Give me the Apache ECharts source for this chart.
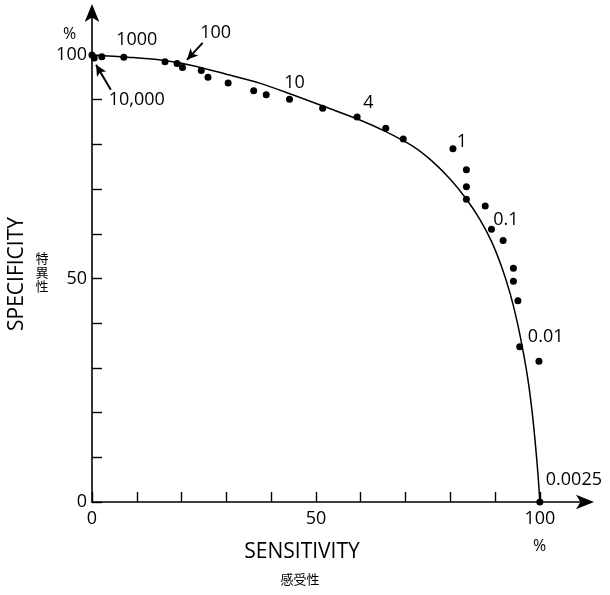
<!DOCTYPE html>
<html>
<head>
<meta charset="utf-8">
<script src="https://cdn.jsdelivr.net/npm/echarts@6/dist/echarts.min.js"></script>
<style>
  html, body { margin: 0; padding: 0; background: #fff; }
  #chart { width: 610px; height: 595px; }
</style>
</head>
<body>
<div id="chart"></div>
<script>
// observed points (sensitivity %, specificity %)
var sensitivity = [0, 0.5, 2.2, 7.1, 16.3, 19.0, 20.2, 24.4, 25.9, 30.4, 36.1, 38.9, 44.1, 51.5, 59.2,
  65.6, 69.5, 80.6, 83.6, 83.6, 83.6, 87.8, 89.2, 91.8, 94.1, 94.1, 95.1, 95.5, 99.8, 100];
var specificity = [100, 99.3, 99.6, 99.5, 98.5, 98.1, 97.2, 96.5, 95.0, 93.7, 92.0, 91.1, 90.1, 88.1, 86.1,
  83.6, 81.2, 79.0, 74.3, 70.5, 67.7, 66.2, 61.0, 58.5, 52.3, 49.4, 45.0, 34.7, 31.5, 0];

// fitted curve, read along its length
var curveSens = [0, 8, 15, 22.6, 30, 37.4, 44.8, 52.3, 59.7, 65.5, 71.6, 76, 80, 83.5, 86.5, 89.2, 91.5,
  93.4, 95, 96.3, 97.4, 98.3, 99, 99.6, 100];
var curveSpec = [100, 99.5, 98.9, 97.6, 95.7, 93.7, 91.1, 88.3, 85.5, 82.9, 79.6, 76.2, 72.2, 67.9, 63.4, 58.3, 52.5,
  46.5, 40, 33.5, 27, 20, 13, 6, 0];

// threshold labels along the curve
var thresholds = ['10,000', '1000', '100', '10', '4', '1', '0.1', '0.01', '0.0025'];

var axisTicks = [0, 10, 20, 30, 40, 50, 60, 70, 80, 90, 100];
var axisLabels = [0, 50, 100];

// where each threshold label sits (data coords)
var labelPos = [[10.0, 89.9], [10.0, 103.4], [27.6, 104.9], [45.2, 93.7], [61.7, 89.3],
  [82.6, 80.5], [92.4, 63.1], [101.3, 36.9], [107.6, 4.9]];

var FONT = 'Open Sans';
var INK = '#000';

var chart = echarts.init(document.getElementById('chart'));

var pts = [];
for (var i = 0; i < sensitivity.length; i++) pts.push([sensitivity[i], specificity[i]]);
var curve = [];
for (var j = 0; j < curveSens.length; j++) curve.push([curveSens[j], curveSpec[j]]);
var notes = [];
for (var k = 0; k < thresholds.length; k++) notes.push({ value: labelPos[k], name: thresholds[k] });

function axis(max) {
  return {
    type: 'value',
    min: 0,
    max: max,
    interval: 10,
    splitLine: { show: false },
    axisLine: {
      show: true,
      onZero: false,
      symbol: ['none', 'arrow'],
      symbolSize: [11, 18],
      symbolOffset: [0, 4],
      lineStyle: { color: INK, width: 1.6 }
    },
    axisTick: {
      show: true, inside: true, length: 10,
      customValues: axisTicks,
      lineStyle: { color: INK, width: 1.4 }
    },
    axisLabel: {
      customValues: axisLabels,
      color: INK, fontFamily: FONT, fontSize: 18
    }
  };
}

var xAx = axis(111.2);
xAx.axisLabel.margin = 8;
var yAx = axis(110.5);
yAx.axisLabel.margin = 5;

chart.setOption({
  animation: false,
  grid: { left: 92, right: 20, top: 8, bottom: 93 },
  xAxis: xAx,
  yAxis: yAx,
  series: [
    {
      type: 'line',
      data: curve,
      smooth: 0.3,
      showSymbol: false,
      lineStyle: { color: INK, width: 1.5 },
      clip: false,
      z: 2
    },
    {
      type: 'scatter',
      data: pts,
      symbolSize: 7,
      itemStyle: { color: INK, opacity: 1 },
      clip: false,
      z: 3
    },
    {
      type: 'scatter',
      data: notes,
      symbolSize: 0,
      clip: false,
      silent: true,
      itemStyle: { opacity: 1 },
      label: {
        show: true,
        position: 'inside',
        formatter: '{b}',
        color: INK,
        fontFamily: FONT,
        fontSize: 18
      },
      markLine: {
        silent: true,
        symbol: ['none', 'arrow'],
        symbolSize: [8, 11],
        label: { show: false },
        lineStyle: { color: INK, width: 2, type: 'solid' },
        data: [
          [{ coord: [24.7, 102.7] }, { coord: [21.2, 98.9] }],
          [{ coord: [4.2, 92.2] }, { coord: [0.9, 97.8] }]
        ]
      }
    }
  ],
  graphic: [
    { type: 'text', left: 63, top: 26, style: { text: '%', font: '16px "' + FONT + '"', fill: INK } },
    { type: 'text', left: 533, top: 538, style: { text: '%', font: '16px "' + FONT + '"', fill: INK } },
    {
      type: 'text', x: 302, y: 552,
      style: { text: 'SENSITIVITY', font: '21px "' + FONT + '"', fill: INK, align: 'center', verticalAlign: 'middle' }
    },
    {
      type: 'text', x: 300, y: 579,
      style: { text: '感受性', font: '13px "Noto Sans CJK JP"', fill: INK, align: 'center', verticalAlign: 'middle' }
    },
    {
      type: 'text', x: 17, y: 274, rotation: Math.PI / 2,
      style: { text: 'SPECIFICITY', font: '21px "' + FONT + '"', fill: INK, align: 'center', verticalAlign: 'middle' }
    },
    {
      type: 'text', x: 42, y: 272,
      style: { text: '特\n異\n性', font: '13px "Noto Sans CJK JP"', lineHeight: 14, fill: INK, align: 'center', verticalAlign: 'middle' }
    }
  ]
});
</script>
</body>
</html>
